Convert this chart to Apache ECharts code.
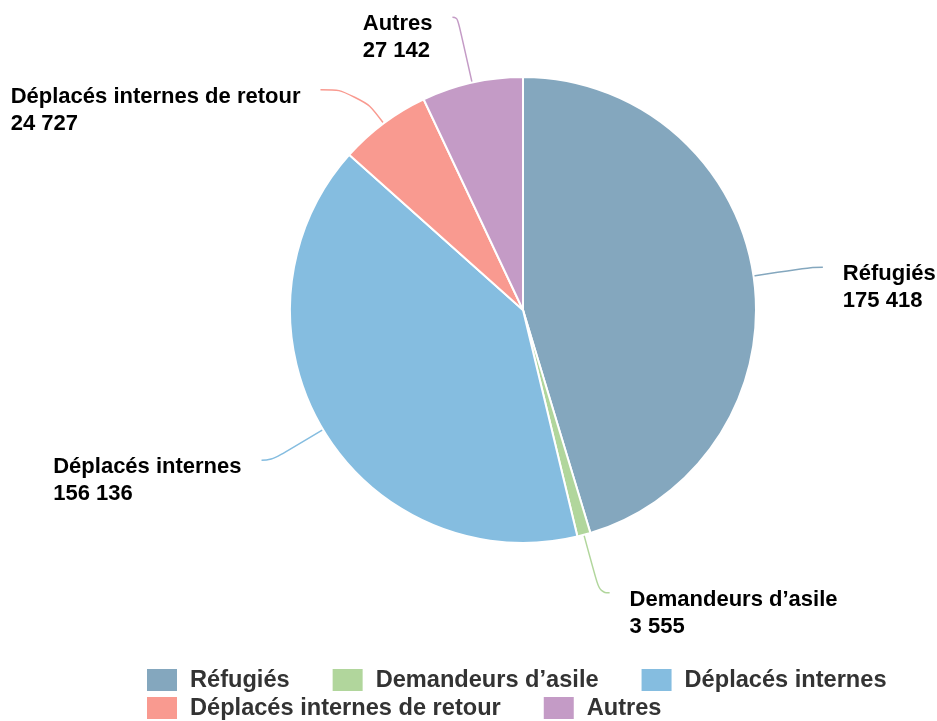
<!DOCTYPE html>
<html>
<head>
<meta charset="utf-8">
<script src="https://cdn.jsdelivr.net/npm/echarts@6/dist/echarts.min.js"></script>
<style>
html,body{margin:0;padding:0;background:#fff;}
#chart{width:937px;height:721px;}
</style>
</head>
<body>
<div id="chart"></div>
<script>
const categories = ['Réfugiés', 'Demandeurs d’asile', 'Déplacés internes', 'Déplacés internes de retour', 'Autres'];
const values = [175418, 3555, 156136, 24727, 27142];
const colors = ['#84a7be', '#b1d69c', '#85bde0', '#f99a90', '#c49bc6'];
const legendRow1 = ['Réfugiés', 'Demandeurs d’asile', 'Déplacés internes'];
const legendRow2 = ['Déplacés internes de retour', 'Autres'];

const lineOverrides = {
  'Déplacés internes de retour': { length: 42, length2: 38 },
  'Autres': { length: 67, length2: 5 }
};

function fmt(v) {
  return String(v).replace(/\B(?=(\d{3})+(?!\d))/g, ' ');
}

const FONT = '"Liberation Sans", Arial, sans-serif';

const data = categories.map((name, i) => {
  const item = { name: name, value: values[i], itemStyle: { color: colors[i] } };
  if (lineOverrides[name]) item.labelLine = lineOverrides[name];
  return item;
});

const legendCommon = {
  left: 145,
  orient: 'horizontal',
  itemWidth: 32,
  itemHeight: 24,
  itemGap: 41,
  icon: 'rect',
  padding: 0,
  selectedMode: false,
  textStyle: {
    fontFamily: FONT,
    fontSize: 23.6,
    fontWeight: 'bold',
    color: '#333333',
    padding: [0, 0, 0, 7]
  }
};

const chart = echarts.init(document.getElementById('chart'), null, { renderer: 'canvas' });
chart.setOption({
  animation: false,
  backgroundColor: '#ffffff',
  legend: [
    Object.assign({}, legendCommon, { top: 667, data: legendRow1 }),
    Object.assign({}, legendCommon, { top: 695, data: legendRow2 })
  ],
  series: [{
    type: 'pie',
    center: [523, 310],
    radius: 233,
    startAngle: 90,
    clockwise: true,
    avoidLabelOverlap: false,
    itemStyle: { borderColor: '#ffffff', borderWidth: 2 },
    label: {
      show: true,
      position: 'outside',
      alignTo: 'none',
      distanceToLabelLine: 20,
      fontFamily: FONT,
      fontSize: 22,
      fontWeight: 'bold',
      color: '#000000',
      lineHeight: 27,
      formatter: function (p) {
        return '{e| }\n{n|' + p.name + '}\n{v|' + fmt(p.value) + '}';
      },
      rich: {
        e: { fontSize: 22, lineHeight: 41, align: 'left' },
        n: { fontFamily: FONT, fontSize: 22, fontWeight: 'bold', color: '#000000', lineHeight: 27, align: 'left' },
        v: { fontFamily: FONT, fontSize: 22, fontWeight: 'bold', color: '#000000', lineHeight: 27, align: 'left' }
      }
    },
    labelLine: {
      show: true,
      length: 60,
      length2: 10,
      smooth: 0.5,
      lineStyle: { width: 1.5 }
    },
    emphasis: { disabled: true },
    data: data
  }]
});
</script>
</body>
</html>
